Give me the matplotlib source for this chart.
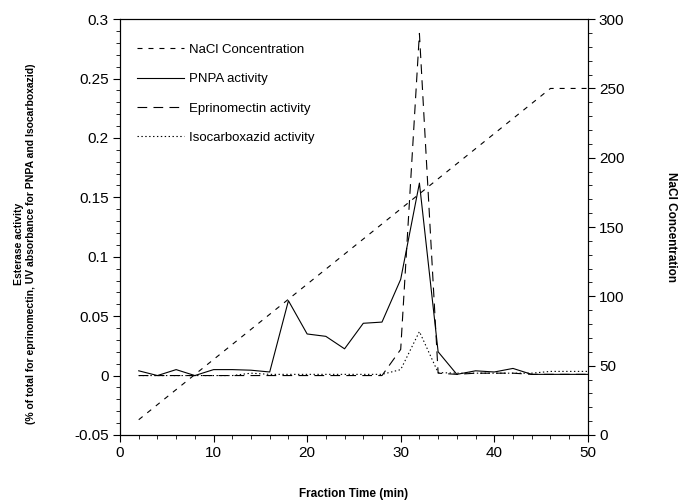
import numpy as np
import matplotlib
matplotlib.use("Agg")
import matplotlib.pyplot as plt
from matplotlib.ticker import MultipleLocator

plt.rcParams["font.family"] = ["Liberation Sans", "DejaVu Sans"]
plt.rcParams["lines.scale_dashes"] = False

# fraction times (min)
t = [2, 4, 6, 8, 10, 12, 14, 16, 18, 20, 22, 24, 26, 28, 30, 32, 34,
     36, 38, 40, 42, 44, 46, 48, 50]

# PNPA activity (UV absorbance)
pnpa = [0.004, 0.0, 0.005, 0.0, 0.005, 0.005, 0.0045, 0.003, 0.063, 0.035,
        0.033, 0.0225, 0.044, 0.045, 0.081, 0.162, 0.020, 0.001, 0.004, 0.003,
        0.006, 0.001, 0.001, 0.001, 0.001]

# eprinomectin activity (% of total)
eprino = [0.0, 0.0, 0.0, 0.0, 0.0, 0.0, 0.0, 0.0, 0.0, 0.0, 0.0, 0.0, 0.0,
          0.0, 0.022, 0.288, 0.002, 0.001, 0.002, 0.002, 0.002, 0.001, 0.001,
          0.001, 0.001]

# isocarboxazid activity (UV absorbance)
iso = [0.0, 0.0, 0.0, 0.0, 0.0, 0.0, 0.002, 0.001, 0.001, 0.001, 0.001,
       0.001, 0.001, 0.001, 0.005, 0.037, 0.0025, 0.002, 0.002, 0.002, 0.002,
       0.002, 0.0035, 0.0035, 0.0035]

# NaCl gradient (right axis), breakpoints
nacl_t = [2, 46, 50]
nacl = [11, 250, 250]

fig = plt.figure(figsize=(6.78, 5.04), dpi=100)
ax = fig.add_axes([0.177, 0.137, 0.690, 0.825])
ax2 = ax.twinx()

lw = 0.8
l_nacl, = ax2.plot(nacl_t, nacl, color="black", lw=lw, linestyle=(0, (3.6, 4.3)))
l_pnpa, = ax.plot(t, pnpa, color="black", lw=lw, linestyle="-")
l_epr, = ax.plot(t, eprino, color="black", lw=lw, linestyle=(0, (7, 4.5)))
l_iso, = ax.plot(t, iso, color="black", lw=lw, linestyle=(0, (1, 1.8)))

ax.set_xlim(0, 50)
ax.set_ylim(-0.05, 0.3)
ax2.set_ylim(0, 300)

ax.xaxis.set_major_locator(MultipleLocator(10))
ax.xaxis.set_minor_locator(MultipleLocator(2))
ax.yaxis.set_major_locator(MultipleLocator(0.05))
ax.yaxis.set_minor_locator(MultipleLocator(0.01))
ax2.yaxis.set_major_locator(MultipleLocator(50))
ax2.yaxis.set_minor_locator(MultipleLocator(10))

ax.set_yticks(np.arange(-0.05, 0.301, 0.05))
ax.set_yticklabels(["-0.05", "0", "0.05", "0.1", "0.15", "0.2", "0.25", "0.3"])

for a in (ax, ax2):
    a.tick_params(which="major", direction="out", length=5, width=0.8,
                  labelsize=11, pad=3)
    a.tick_params(which="minor", direction="out", length=3, width=0.6)
    for s in a.spines.values():
        s.set_linewidth(0.8)

ax.set_xlabel("Fraction Time (min)", fontsize=8.5, fontweight="bold", va="center")
ax.xaxis.set_label_coords(0.5, -0.142)
ax.set_ylabel("Esterase activity\n(% of total for eprinomectin, UV absorbance for PNPA and Isocarboxazid)",
              fontsize=7.5, fontweight="bold", linespacing=1.15, va="center")
ax.yaxis.set_label_coords(-0.203, 0.46)
ax2.set_ylabel("NaCl Concentration", fontsize=8.5, fontweight="bold",
               rotation=-90, va="center")
ax2.yaxis.set_label_coords(1.178, 0.5)

ax.legend([l_nacl, l_pnpa, l_epr, l_iso],
          ["NaCl Concentration", "PNPA activity", "Eprinomectin activity",
           "Isocarboxazid activity"],
          loc="upper left", bbox_to_anchor=(0.012, 0.97), frameon=False,
          fontsize=9.5, handlelength=3.5, labelspacing=1.3, handletextpad=0.4)

fig.savefig("out.png", dpi=100)
